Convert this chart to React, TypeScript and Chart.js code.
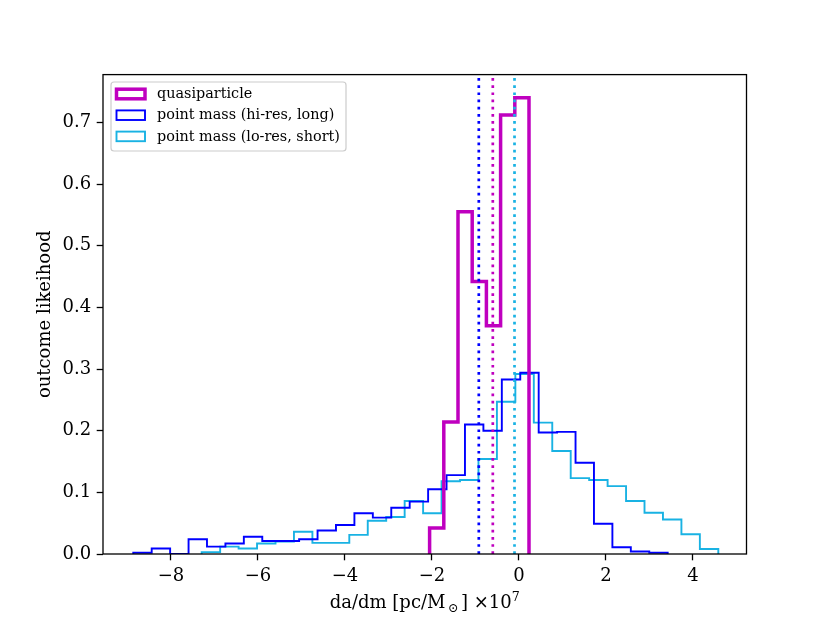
import React, { useEffect, useRef } from 'react';
import { Chart, registerables } from 'chart.js';

Chart.register(...registerables);

// ---- data ----
const seriesNames = ['quasiparticle', 'point mass (hi-res, long)', 'point mass (lo-res, short)'];
const seriesColors = ['#bf00bf', '#0000ff', '#19b2e3'];

// histogram ranges [first edge, last edge]
const quasiRange = [-2.055, 0.23];
const hiresRange = [-8.867, 3.418];
const loresRange = [-7.294, 4.582];

// density values per bin
const quasiValues = [0.042, 0.214, 0.555, 0.442, 0.37, 0.712, 0.74];
const hiresValues = [
  0.002, 0.009, 0, 0.024, 0.012, 0.017, 0.028, 0.021, 0.021, 0.024, 0.038, 0.047, 0.066, 0.059, 0.075,
  0.085, 0.105, 0.128, 0.21, 0.2, 0.283, 0.294, 0.197, 0.198, 0.148, 0.049, 0.011, 0.004, 0.002,
];
const loresValues = [
  0.003, 0.012, 0.009, 0.017, 0.02, 0.036, 0.018, 0.018, 0.031, 0.054, 0.06, 0.086, 0.066, 0.118,
  0.12, 0.154, 0.247, 0.292, 0.213, 0.167, 0.123, 0.12, 0.11, 0.086, 0.067, 0.056, 0.032, 0.008,
];

// mean markers (dotted vertical lines)
const meanValues = [-0.602, -0.924, -0.103];

const xTicks = [-8, -6, -4, -2, 0, 2, 4];
const yTicks = [0, 0.1, 0.2, 0.3, 0.4, 0.5, 0.6, 0.7];
const xLimits = [-9.563, 5.23];
const yLimits = [0, 0.7775];

const FONT = '"DejaVu Serif", "Liberation Serif", serif';
const TICK_SIZE = 18;
const LABEL_SIZE = 18;
const LEGEND_SIZE = 14.4;

function stepPoints(range: number[], vals: number[]) {
  const [lo, hi] = range;
  const n = vals.length;
  const w = (hi - lo) / n;
  const pts: { x: number; y: number }[] = [{ x: lo, y: 0 }];
  vals.forEach((v, i) => pts.push({ x: lo + i * w, y: v }));
  pts.push({ x: hi, y: vals[n - 1] });
  pts.push({ x: hi, y: 0 });
  return pts;
}

const framePlugin = {
  id: 'frameAndLabels',
  afterDraw(chart: any) {
    const ctx = chart.ctx as CanvasRenderingContext2D;
    const a = chart.chartArea;
    ctx.save();
    // frame
    ctx.strokeStyle = '#000';
    ctx.lineWidth = 1.3;
    ctx.strokeRect(a.left, a.top, a.right - a.left, a.bottom - a.top);

    // legend
    const lx = 111, ly = 82, lw = 235, lh = 69, r = 3;
    ctx.beginPath();
    ctx.moveTo(lx + r, ly);
    ctx.lineTo(lx + lw - r, ly);
    ctx.arcTo(lx + lw, ly, lx + lw, ly + r, r);
    ctx.lineTo(lx + lw, ly + lh - r);
    ctx.arcTo(lx + lw, ly + lh, lx + lw - r, ly + lh, r);
    ctx.lineTo(lx + r, ly + lh);
    ctx.arcTo(lx, ly + lh, lx, ly + lh - r, r);
    ctx.lineTo(lx, ly + r);
    ctx.arcTo(lx, ly, lx + r, ly, r);
    ctx.closePath();
    ctx.fillStyle = 'rgba(255,255,255,0.8)';
    ctx.fill();
    ctx.strokeStyle = '#cccccc';
    ctx.lineWidth = 1.2;
    ctx.stroke();

    const rowY = [94, 115.2, 136.4];
    const widths = [3.5, 1.9, 1.9];
    ctx.font = `${LEGEND_SIZE}px ${FONT}`;
    ctx.textBaseline = 'middle';
    ctx.textAlign = 'left';
    seriesNames.forEach((name, i) => {
      ctx.strokeStyle = seriesColors[i];
      ctx.lineWidth = widths[i];
      ctx.strokeRect(116.5, rowY[i] - 4.8, 28.5, 9.6);
      ctx.fillStyle = '#000';
      ctx.fillText(name, 157, rowY[i] + 0.5);
    });

    // x axis title: da/dm [pc/M_sun] x10^7
    const cx = (a.left + a.right) / 2;
    const base = 608;
    const sub = LABEL_SIZE * 0.7;
    const parts = [
      { t: 'da/dm [pc/M', size: LABEL_SIZE, dy: 0 },
      { t: '\u2009\u2299\u2009', size: sub, dy: 3.5 },
      { t: '] \u00d710', size: LABEL_SIZE, dy: 0 },
      { t: '7', size: sub, dy: -7.5 },
    ];
    let total = 0;
    const ws = parts.map((p) => {
      ctx.font = `${p.size}px ${FONT}`;
      const w = ctx.measureText(p.t).width;
      total += w;
      return w;
    });
    let x = cx - total / 2;
    ctx.textBaseline = 'alphabetic';
    ctx.textAlign = 'left';
    ctx.fillStyle = '#000';
    parts.forEach((p, i) => {
      ctx.font = `${p.size}px ${FONT}`;
      ctx.fillText(p.t, x, base + p.dy);
      x += ws[i];
    });

    // y axis title
    ctx.translate(45, (a.top + a.bottom) / 2);
    ctx.rotate(-Math.PI / 2);
    ctx.font = `${LABEL_SIZE}px ${FONT}`;
    ctx.textAlign = 'center';
    ctx.textBaseline = 'middle';
    ctx.fillText('outcome likeihood', 0, 0);
    ctx.restore();
  },
};

export default function App() {
  const ref = useRef<HTMLCanvasElement | null>(null);

  useEffect(() => {
    if (!ref.current) return;
    const histWidths = [3.5, 1.9, 1.9];
    const hists = [quasiRange, hiresRange, loresRange].map((rng, i) => ({
      label: seriesNames[i],
      data: stepPoints(rng, [quasiValues, hiresValues, loresValues][i]),
      borderColor: seriesColors[i],
      borderWidth: histWidths[i],
      stepped: true as const,
      pointRadius: 0,
      fill: false,
      borderJoinStyle: 'miter' as const,
      borderCapStyle: 'butt' as const,
      order: 0,
    }));
    const vlines = meanValues.map((m, i) => ({
      label: 'mean ' + i,
      data: [
        { x: m, y: yLimits[0] },
        { x: m, y: yLimits[1] },
      ],
      borderColor: seriesColors[i],
      borderWidth: 2.7,
      borderDash: [2.7, 4.47],
      borderCapStyle: 'butt' as const,
      pointRadius: 0,
      fill: false,
      order: -1,
    }));

    const tickGrid = {
      drawOnChartArea: false,
      drawTicks: true,
      tickLength: 6.3,
      tickWidth: 1.3,
      tickColor: '#000',
    };

    const chart = new Chart(ref.current, {
      type: 'line',
      data: { datasets: [...hists, ...vlines] as any },
      plugins: [framePlugin],
      options: {
        animation: false,
        responsive: false,
        devicePixelRatio: 1,
        layout: { padding: { left: 0, top: 74.6, right: 83.5, bottom: 0 } },
        plugins: { legend: { display: false }, tooltip: { enabled: false } },
        scales: {
          x: {
            type: 'linear',
            min: xLimits[0],
            max: xLimits[1],
            afterFit: (s: any) => {
              s.height = 69;
            },
            afterBuildTicks: (s: any) => {
              s.ticks = xTicks.map((v) => ({ value: v }));
            },
            ticks: {
              font: { family: FONT, size: TICK_SIZE },
              color: '#000',
              padding: 5.5,
              maxRotation: 0,
              autoSkip: false,
              callback: (v: any) => String(v).replace('-', '\u2212'),
            },
            grid: tickGrid,
            border: { display: false },
          },
          y: {
            type: 'linear',
            min: yLimits[0],
            max: yLimits[1],
            afterFit: (s: any) => {
              s.width = 103;
            },
            afterBuildTicks: (s: any) => {
              s.ticks = yTicks.map((v) => ({ value: v }));
            },
            ticks: {
              font: { family: FONT, size: TICK_SIZE },
              color: '#000',
              padding: 5.5,
              autoSkip: false,
              callback: (v: any) => Number(v).toFixed(1),
            },
            grid: tickGrid,
            border: { display: false },
          },
        },
      },
    });
    return () => chart.destroy();
  }, []);

  return (
    <div style={{ position: 'absolute', left: 0, top: 0, width: 830, height: 623, background: '#fff' }}>
      <canvas ref={ref} width={830} height={623} style={{ width: 830, height: 623, display: 'block' }} />
    </div>
  );
}
